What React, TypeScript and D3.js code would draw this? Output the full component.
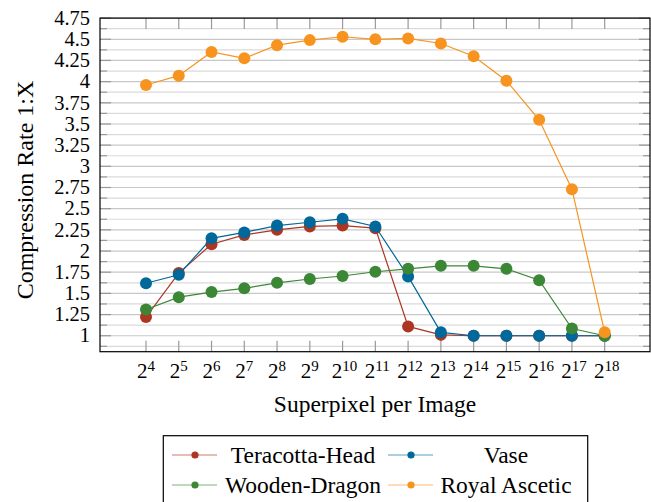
import React from "react";
import * as d3 from "d3";

const exponents = [4, 5, 6, 7, 8, 9, 10, 11, 12, 13, 14, 15, 16, 17, 18];
const teracottaHead = [1.22, 1.74, 2.08, 2.19, 2.25, 2.29, 2.30, 2.27, 1.11, 1.01, 1.0, 1.0, 1.0, 1.0, 1.0];
const vase = [1.62, 1.72, 2.15, 2.22, 2.30, 2.34, 2.38, 2.29, 1.70, 1.04, 1.0, 1.0, 1.0, 1.0, 1.0];
const woodenDragon = [1.31, 1.455, 1.515, 1.56, 1.625, 1.67, 1.705, 1.755, 1.79, 1.825, 1.825, 1.79, 1.655, 1.085, 1.0];
const royalAscetic = [3.96, 4.07, 4.35, 4.275, 4.43, 4.49, 4.53, 4.50, 4.51, 4.45, 4.30, 4.01, 3.55, 2.73, 1.04];
const yMajorTicks = [1, 1.25, 1.5, 1.75, 2, 2.25, 2.5, 2.75, 3, 3.25, 3.5, 3.75, 4, 4.25, 4.5, 4.75];
const yMinorTicks = [0.875, 1.125, 1.375, 1.625, 1.875, 2.125, 2.375, 2.625, 2.875, 3.125, 3.375, 3.625, 3.875, 4.125, 4.375, 4.625];

const seriesNames = ["Teracotta-Head", "Vase", "Wooden-Dragon", "Royal Ascetic"];
const seriesValues = [teracottaHead, vase, woodenDragon, royalAscetic];
const seriesColors = ["#ad3522", "#00689b", "#3b8735", "#f7941f"];

const L = 100, R = 650, T = 18.1, B = 351.7;
const FONT = "Liberation Serif, Tinos, Times New Roman, serif";
const ts = { fontFamily: FONT };

export default function App() {
  const x = d3.scaleLog().base(2).domain([Math.pow(2, 2.596), Math.pow(2, 19.383)]).range([L, R]);
  const y = d3.scaleLinear().domain([0.8114, 4.75]).range([B, T]);
  const line = d3.line<[number, number]>().x(d => x(Math.pow(2, d[0]))).y(d => y(d[1]));

  const legendCols = [{ lx1: 172, lx2: 217, mx: 195, tx: 303 }, { lx1: 388, lx2: 433, mx: 411, tx: 506 }];
  const legendRows = [455, 485];

  return (
    <svg width={651} height={502} style={{ position: "absolute", left: 0, top: 0, display: "block", background: "#fff", fontFamily: FONT }}>
      {yMinorTicks.map(v => (
        <line key={"mg" + v} x1={L} x2={R} y1={y(v)} y2={y(v)} stroke="#dadada" strokeWidth={1.2} />
      ))}
      {yMajorTicks.map(v => (
        <line key={"Mg" + v} x1={L} x2={R} y1={y(v)} y2={y(v)} stroke="#c8c8c8" strokeWidth={1.2} />
      ))}
      {yMinorTicks.map(v => (
        <g key={"mt" + v}>
          <line x1={L} x2={L + 7} y1={y(v)} y2={y(v)} stroke="#999" strokeWidth={1.2} />
          <line x1={R - 7} x2={R} y1={y(v)} y2={y(v)} stroke="#999" strokeWidth={1.2} />
        </g>
      ))}
      {yMajorTicks.map(v => (
        <g key={"Mt" + v}>
          <line x1={L} x2={L + 11} y1={y(v)} y2={y(v)} stroke="#999" strokeWidth={1.2} />
          <line x1={R - 11} x2={R} y1={y(v)} y2={y(v)} stroke="#999" strokeWidth={1.2} />
          <text x={90} y={y(v)} dy="0.33em" textAnchor="end" fontSize={20.5} fill="#000" style={ts}>{String(v)}</text>
        </g>
      ))}
      {exponents.map(e => (
        <g key={"xt" + e}>
          <line x1={x(Math.pow(2, e))} x2={x(Math.pow(2, e))} y1={T} y2={T + 11} stroke="#999" strokeWidth={1.2} />
          <line x1={x(Math.pow(2, e))} x2={x(Math.pow(2, e))} y1={B} y2={B - 11} stroke="#999" strokeWidth={1.2} />
          <text x={x(Math.pow(2, e)) + (e >= 10 ? 2 : 0)} y={378} textAnchor="middle" fill="#000" style={ts}>
            <tspan fontSize={21}>2</tspan>
            <tspan fontSize={15} dy={-7}>{String(e)}</tspan>
          </text>
        </g>
      ))}
      {seriesValues.map((vals, i) => {
        const pts: [number, number][] = exponents.map((e, j) => [e, vals[j]]);
        return (
          <g key={"s" + i}>
            <path d={line(pts) || ""} fill="none" stroke={seriesColors[i]} strokeWidth={1.2} />
            {pts.map((p, j) => (
              <circle key={j} cx={x(Math.pow(2, p[0]))} cy={y(p[1])} r={6} fill={seriesColors[i]} />
            ))}
          </g>
        );
      })}
      <rect x={L} y={T} width={R - L} height={B - T} fill="none" stroke="#000" strokeWidth={1.2} />
      <text x={(L + R) / 2} y={412} textAnchor="middle" fontSize={23.5} fill="#000" style={ts}>Superpixel per Image</text>
      <text transform={`translate(33,190) rotate(-90)`} textAnchor="middle" fontSize={24} fill="#000" style={ts}>Compression Rate 1:X</text>
      <rect x={163.3} y={435.7} width={424.4} height={70} fill="#fff" stroke="#000" strokeWidth={1.2} />
      {seriesNames.map((name, i) => {
        const c = legendCols[i % 2];
        const ry = legendRows[Math.floor(i / 2)];
        return (
          <g key={"lg" + i}>
            <line x1={c.lx1} x2={c.lx2} y1={ry} y2={ry} stroke={seriesColors[i]} strokeOpacity={0.65} strokeWidth={1.2} />
            <circle cx={c.mx} cy={ry} r={3.6} fill={seriesColors[i]} />
            <text x={c.tx} y={ry} dy="0.34em" textAnchor="middle" fontSize={23.5} fill="#000" style={ts}>{name}</text>
          </g>
        );
      })}
    </svg>
  );
}
